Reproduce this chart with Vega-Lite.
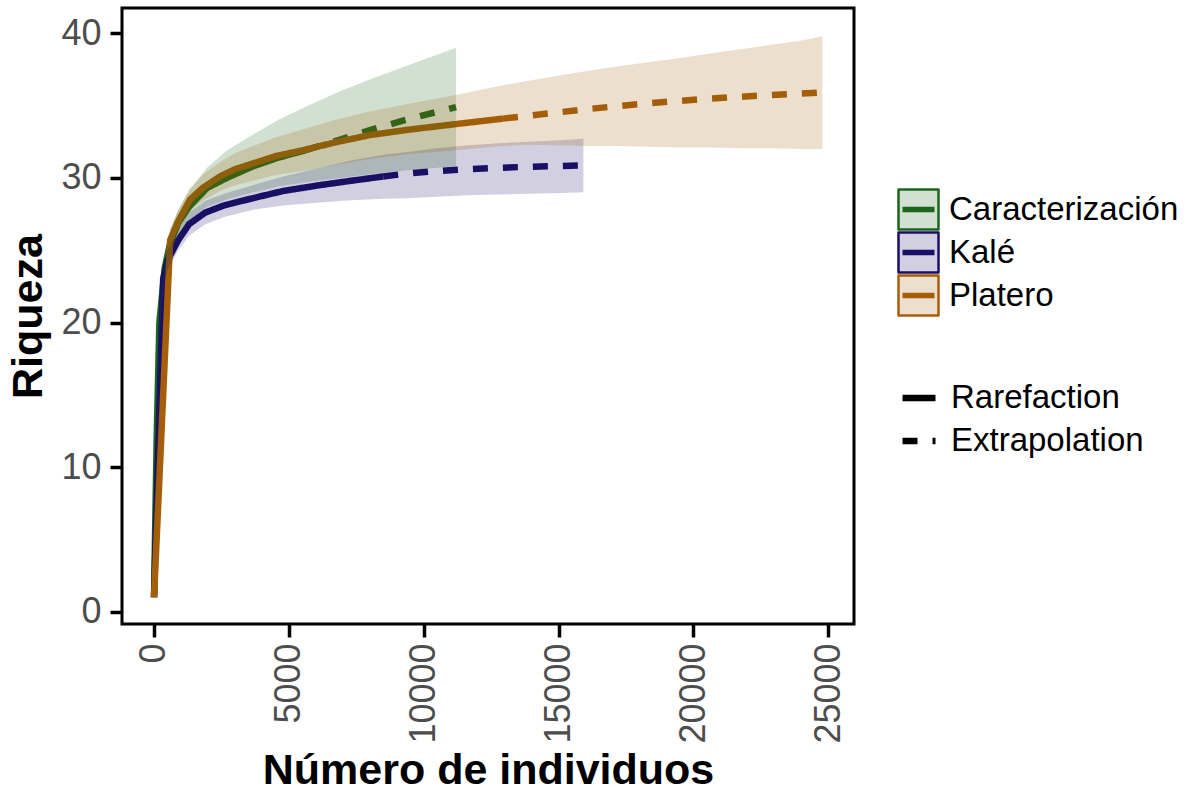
{
  "$schema": "https://vega.github.io/schema/vega-lite/v6.json",
  "autosize": {"type": "none"},
  "padding": {"left": 122, "top": 8, "right": 339, "bottom": 170},
  "width": 732,
  "height": 616,
  "background": "white",
  "config": {
    "view": {"stroke": "black", "strokeWidth": 3},
    "font": "Liberation Sans",
    "axis": {
      "grid": false,
      "domain": false,
      "labelFont": "Liberation Sans",
      "labelFontSize": 36,
      "labelColor": "#4d4d4d",
      "tickColor": "black",
      "tickWidth": 3.5,
      "titleFont": "Liberation Sans",
      "titleFontSize": 43,
      "titleFontWeight": "bold",
      "titleColor": "black"
    },
    "legend": {
      "labelFont": "Liberation Sans",
      "labelFontSize": 33,
      "labelColor": "black",
      "labelLimit": 400,
      "padding": 0
    }
  },
  "data": {
    "values": [
      {"grupo": "Caracterización", "metodo": "Rarefaction", "n": 1, "s": 1, "lo": 1, "hi": 1},
      {"grupo": "Caracterización", "metodo": "Rarefaction", "n": 100, "s": 12.0, "lo": 11.5, "hi": 12.5},
      {"grupo": "Caracterización", "metodo": "Rarefaction", "n": 200, "s": 20.0, "lo": 19.2, "hi": 20.8},
      {"grupo": "Caracterización", "metodo": "Rarefaction", "n": 400, "s": 23.8, "lo": 23.0, "hi": 24.6},
      {"grupo": "Caracterización", "metodo": "Rarefaction", "n": 600, "s": 25.5, "lo": 24.6, "hi": 26.5},
      {"grupo": "Caracterización", "metodo": "Rarefaction", "n": 900, "s": 26.9, "lo": 26.0, "hi": 27.8},
      {"grupo": "Caracterización", "metodo": "Rarefaction", "n": 1300, "s": 28.0, "lo": 27.0, "hi": 29.1},
      {"grupo": "Caracterización", "metodo": "Rarefaction", "n": 1965, "s": 29.3, "lo": 28.0, "hi": 30.7},
      {"grupo": "Caracterización", "metodo": "Rarefaction", "n": 2700, "s": 30.0, "lo": 28.5, "hi": 31.9},
      {"grupo": "Caracterización", "metodo": "Rarefaction", "n": 3670, "s": 30.8, "lo": 29.0, "hi": 33.0},
      {"grupo": "Caracterización", "metodo": "Rarefaction", "n": 4600, "s": 31.4, "lo": 29.4, "hi": 34.0},
      {"grupo": "Caracterización", "metodo": "Rarefaction", "n": 5600, "s": 31.9, "lo": 29.7, "hi": 34.9},
      {"grupo": "Caracterización", "metodo": "Extrapolation", "n": 5600, "s": 31.9, "lo": 29.7, "hi": 34.9},
      {"grupo": "Caracterización", "metodo": "Extrapolation", "n": 6900, "s": 32.65, "lo": 30.0, "hi": 36.0},
      {"grupo": "Caracterización", "metodo": "Extrapolation", "n": 8000, "s": 33.3, "lo": 30.25, "hi": 36.8},
      {"grupo": "Caracterización", "metodo": "Extrapolation", "n": 9500, "s": 34.1, "lo": 30.55, "hi": 37.85},
      {"grupo": "Caracterización", "metodo": "Extrapolation", "n": 11200, "s": 34.9, "lo": 30.8, "hi": 39.0},
      {"grupo": "Kalé", "metodo": "Rarefaction", "n": 1, "s": 1, "lo": 1, "hi": 1},
      {"grupo": "Kalé", "metodo": "Rarefaction", "n": 340, "s": 23.0, "lo": 22.4, "hi": 23.6},
      {"grupo": "Kalé", "metodo": "Rarefaction", "n": 500, "s": 24.3, "lo": 23.6, "hi": 25.0},
      {"grupo": "Kalé", "metodo": "Rarefaction", "n": 900, "s": 25.7, "lo": 25.0, "hi": 26.4},
      {"grupo": "Kalé", "metodo": "Rarefaction", "n": 1300, "s": 26.8, "lo": 26.0, "hi": 27.6},
      {"grupo": "Kalé", "metodo": "Rarefaction", "n": 1900, "s": 27.6, "lo": 26.8, "hi": 28.4},
      {"grupo": "Kalé", "metodo": "Rarefaction", "n": 2600, "s": 28.1, "lo": 27.3, "hi": 28.9},
      {"grupo": "Kalé", "metodo": "Rarefaction", "n": 3670, "s": 28.6, "lo": 27.8, "hi": 29.5},
      {"grupo": "Kalé", "metodo": "Rarefaction", "n": 4800, "s": 29.1, "lo": 28.1, "hi": 30.1},
      {"grupo": "Kalé", "metodo": "Rarefaction", "n": 6150, "s": 29.5, "lo": 28.3, "hi": 30.7},
      {"grupo": "Kalé", "metodo": "Rarefaction", "n": 7300, "s": 29.8, "lo": 28.45, "hi": 31.2},
      {"grupo": "Kalé", "metodo": "Rarefaction", "n": 8500, "s": 30.1, "lo": 28.55, "hi": 31.6},
      {"grupo": "Kalé", "metodo": "Extrapolation", "n": 8500, "s": 30.1, "lo": 28.55, "hi": 31.6},
      {"grupo": "Kalé", "metodo": "Extrapolation", "n": 9370, "s": 30.3, "lo": 28.6, "hi": 31.8},
      {"grupo": "Kalé", "metodo": "Extrapolation", "n": 10480, "s": 30.47, "lo": 28.7, "hi": 32.05},
      {"grupo": "Kalé", "metodo": "Extrapolation", "n": 11655, "s": 30.6, "lo": 28.8, "hi": 32.25},
      {"grupo": "Kalé", "metodo": "Extrapolation", "n": 12770, "s": 30.7, "lo": 28.85, "hi": 32.4},
      {"grupo": "Kalé", "metodo": "Extrapolation", "n": 13880, "s": 30.77, "lo": 28.9, "hi": 32.5},
      {"grupo": "Kalé", "metodo": "Extrapolation", "n": 15050, "s": 30.82, "lo": 28.95, "hi": 32.6},
      {"grupo": "Kalé", "metodo": "Extrapolation", "n": 15920, "s": 30.87, "lo": 29.0, "hi": 32.7},
      {"grupo": "Platero", "metodo": "Rarefaction", "n": 1, "s": 1, "lo": 1, "hi": 1},
      {"grupo": "Platero", "metodo": "Rarefaction", "n": 600, "s": 25.7, "lo": 25.0, "hi": 26.4},
      {"grupo": "Platero", "metodo": "Rarefaction", "n": 900, "s": 27.0, "lo": 26.2, "hi": 27.8},
      {"grupo": "Platero", "metodo": "Rarefaction", "n": 1335, "s": 28.5, "lo": 27.7, "hi": 29.3},
      {"grupo": "Platero", "metodo": "Rarefaction", "n": 1800, "s": 29.3, "lo": 28.4, "hi": 30.2},
      {"grupo": "Platero", "metodo": "Rarefaction", "n": 2447, "s": 30.1, "lo": 29.1, "hi": 31.1},
      {"grupo": "Platero", "metodo": "Rarefaction", "n": 3000, "s": 30.6, "lo": 29.5, "hi": 31.7},
      {"grupo": "Platero", "metodo": "Rarefaction", "n": 3670, "s": 31.0, "lo": 29.8, "hi": 32.2},
      {"grupo": "Platero", "metodo": "Rarefaction", "n": 4500, "s": 31.5, "lo": 30.2, "hi": 32.8},
      {"grupo": "Platero", "metodo": "Rarefaction", "n": 5600, "s": 31.95, "lo": 30.5, "hi": 33.4},
      {"grupo": "Platero", "metodo": "Rarefaction", "n": 6700, "s": 32.45, "lo": 30.9, "hi": 34.0},
      {"grupo": "Platero", "metodo": "Rarefaction", "n": 8000, "s": 32.96, "lo": 31.3, "hi": 34.6},
      {"grupo": "Platero", "metodo": "Rarefaction", "n": 9500, "s": 33.35, "lo": 31.65, "hi": 35.15},
      {"grupo": "Platero", "metodo": "Rarefaction", "n": 11086, "s": 33.7, "lo": 31.9, "hi": 35.7},
      {"grupo": "Platero", "metodo": "Rarefaction", "n": 12940, "s": 34.1, "lo": 32.2, "hi": 36.4},
      {"grupo": "Platero", "metodo": "Extrapolation", "n": 12940, "s": 34.1, "lo": 32.2, "hi": 36.4},
      {"grupo": "Platero", "metodo": "Extrapolation", "n": 13820, "s": 34.28, "lo": 32.3, "hi": 36.7},
      {"grupo": "Platero", "metodo": "Extrapolation", "n": 14930, "s": 34.52, "lo": 32.25, "hi": 37.05},
      {"grupo": "Platero", "metodo": "Extrapolation", "n": 16040, "s": 34.75, "lo": 32.2, "hi": 37.4},
      {"grupo": "Platero", "metodo": "Extrapolation", "n": 17155, "s": 34.96, "lo": 32.2, "hi": 37.7},
      {"grupo": "Platero", "metodo": "Extrapolation", "n": 18330, "s": 35.16, "lo": 32.15, "hi": 38.0},
      {"grupo": "Platero", "metodo": "Extrapolation", "n": 19500, "s": 35.33, "lo": 32.1, "hi": 38.3},
      {"grupo": "Platero", "metodo": "Extrapolation", "n": 20615, "s": 35.48, "lo": 32.1, "hi": 38.6},
      {"grupo": "Platero", "metodo": "Extrapolation", "n": 21730, "s": 35.61, "lo": 32.05, "hi": 38.9},
      {"grupo": "Platero", "metodo": "Extrapolation", "n": 22900, "s": 35.73, "lo": 32.05, "hi": 39.2},
      {"grupo": "Platero", "metodo": "Extrapolation", "n": 24015, "s": 35.84, "lo": 32.0, "hi": 39.5},
      {"grupo": "Platero", "metodo": "Extrapolation", "n": 24780, "s": 35.9, "lo": 32.0, "hi": 39.8}
    ]
  },
  "encoding": {
    "x": {
      "field": "n",
      "type": "quantitative",
      "scale": {"domain": [-1186, 25953], "nice": false, "zero": false},
      "axis": {
        "title": "Número de individuos",
        "values": [0, 5000, 10000, 15000, 20000, 25000],
        "format": "d",
        "labelAngle": 270,
        "tickSize": 13,
        "labelPadding": 6,
        "titlePadding": 6
      }
    }
  },
  "layer": [
    {
      "mark": {"type": "line", "strokeWidth": 6.5, "strokeCap": "butt"},
      "encoding": {
        "y": {
          "field": "s",
          "type": "quantitative",
          "scale": {"domain": [-0.85, 41.75], "nice": false, "zero": false},
          "axis": {
            "title": "Riqueza",
            "values": [0, 10, 20, 30, 40],
            "tickSize": 12,
            "labelPadding": 9,
            "titlePadding": 10
          }
        },
        "color": {
          "field": "grupo",
          "type": "nominal",
          "scale": {"domain": ["Caracterización", "Kalé", "Platero"], "range": ["#1b661b", "#1a0f66", "#a65e08"]},
          "legend": {
            "title": null,
            "orient": "none",
            "legendX": 775,
            "legendY": 180,
            "symbolType": "M-1,-1H1V1H-1Z M-0.8,-0.08H0.8 M-0.8,0H0.8 M-0.8,0.08H0.8",
            "symbolSize": 1600,
            "symbolStrokeWidth": 2.5,
            "rowPadding": -6,
            "labelOffset": 9,
            "encode": {
              "symbols": {
                "update": {
                  "fill": {"scale": "color", "field": "value"},
                  "fillOpacity": {"value": 0.2},
                  "stroke": {"scale": "color", "field": "value"},
                  "strokeWidth": {"value": 2.5},
                  "strokeJoin": {"value": "round"},
                  "opacity": {"value": 1}
                }
              }
            }
          }
        },
        "strokeDash": {
          "field": "metodo",
          "type": "nominal",
          "scale": {"domain": ["Rarefaction", "Extrapolation"], "range": [[1, 0], [15, 15]]},
          "legend": {
            "title": null,
            "orient": "none",
            "legendX": 777,
            "legendY": 370,
            "symbolType": "stroke",
            "symbolSize": 1089,
            "symbolStrokeWidth": 6.5,
            "symbolStrokeColor": "black",
            "rowPadding": 6,
            "labelOffset": 12
          }
        }
      }
    },
    {
      "mark": {"type": "area", "fillOpacity": 0.2},
      "encoding": {
        "y": {"field": "lo", "type": "quantitative"},
        "y2": {"field": "hi"},
        "color": {"field": "grupo", "type": "nominal"},
        "detail": {"field": "grupo"}
      }
    }
  ]
}
